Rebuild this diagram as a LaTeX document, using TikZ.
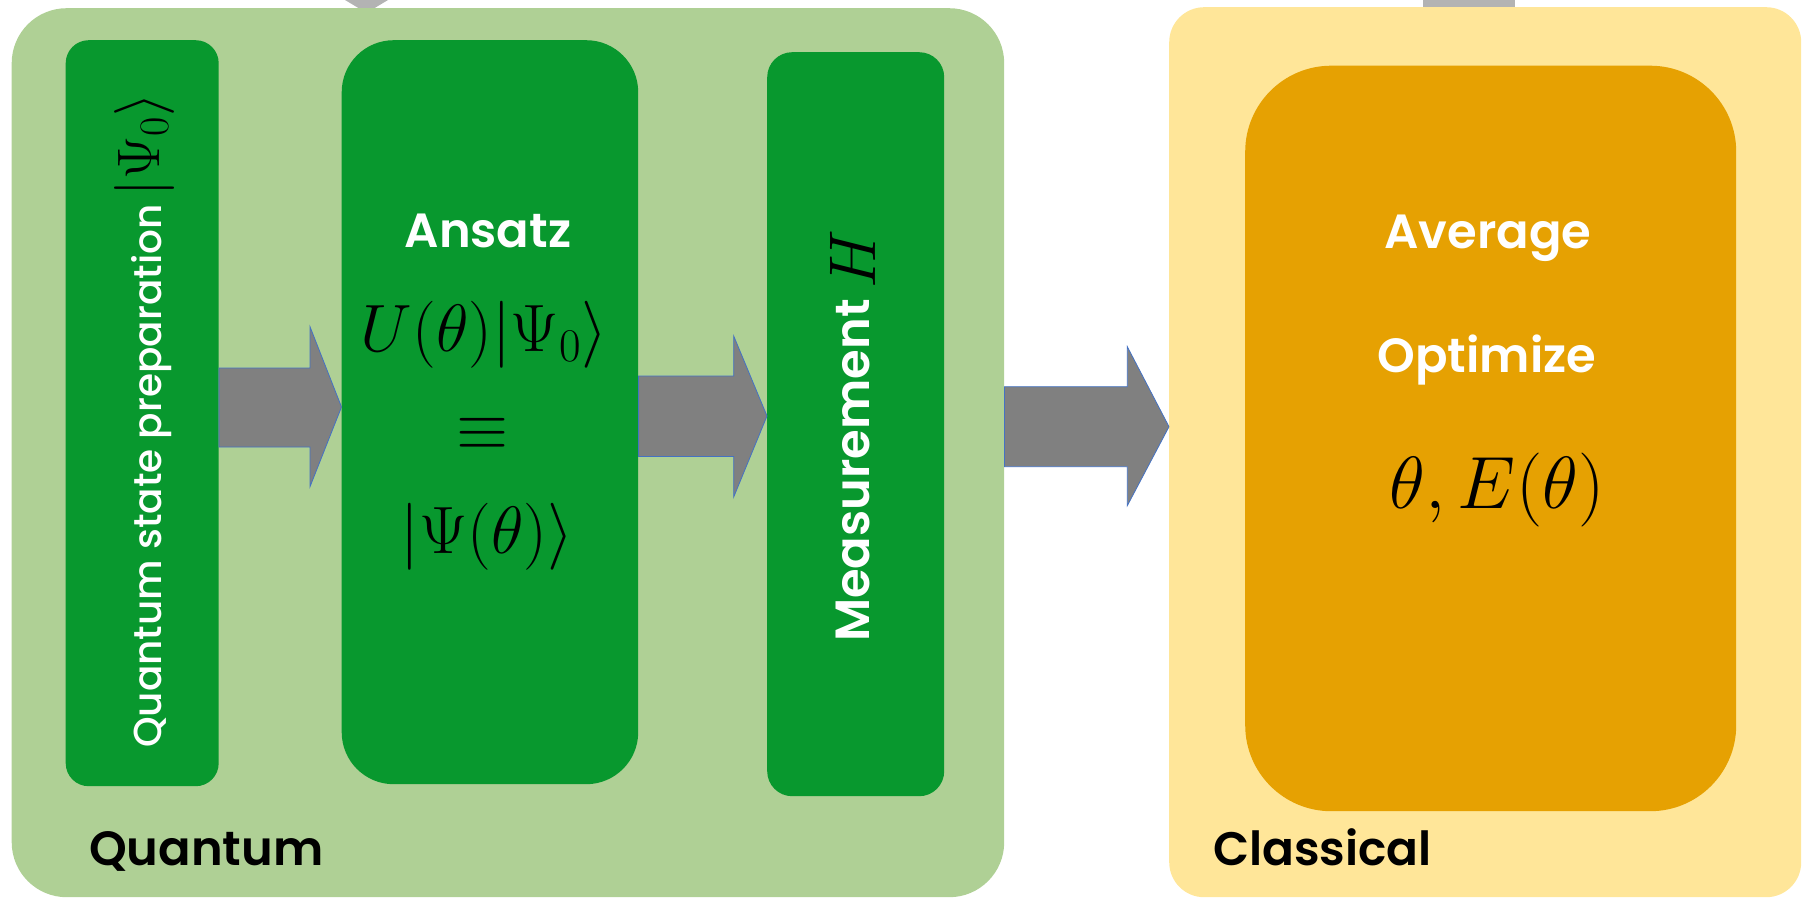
\RequirePackage{fix-cm}
\documentclass[tikz,border=0pt]{standalone}
\usepackage[no-math]{fontspec}
\setmainfont{Poppins}[BoldFont={Poppins SemiBold}]
\newfontfamily\mediumfont{Poppins Medium}
\definecolor{qlight}{RGB}{175,208,149}
\definecolor{qdark}{RGB}{8,152,46}
\definecolor{clight}{RGB}{255,230,153}
\definecolor{cdark}{RGB}{230,161,2}
\definecolor{arrowgray}{RGB}{128,128,128}
\definecolor{arrowedge}{RGB}{68,114,196}
\definecolor{faintgray}{RGB}{179,179,179}
\tikzset{
  box/.style={rectangle, inner sep=0pt, anchor=north west},
  bigarrow/.style={fill=arrowgray, draw=arrowedge, line width=0.8pt, line join=miter},
  lab/.style={inner sep=0pt, font=\fontsize{48}{58}\selectfont\bfseries},
  mathlab/.style={inner sep=0pt, anchor=base},
  upright/.style={rotate=90, inner sep=0pt}
}
\begin{document}
\begin{tikzpicture}[x=1pt, y=-1pt]
\useasboundingbox (0,0) rectangle (1803,899);

% loop-back arrow stubs at the top edge
\fill[faintgray] (345,0) -- (388,0) -- (373,9) -- (360,9) -- cycle;
\fill[faintgray] (1423,0) rectangle (1515,9);

% panels
\node[box, fill=qlight, minimum width=992.5pt, minimum height=889pt, rounded corners=55pt] (qpanel) at (11.5,8) {};
\node[box, fill=clight, minimum width=632pt, minimum height=890pt, rounded corners=35pt] (cpanel) at (1169,7) {};

% arrows between the stages
\draw[bigarrow] (qpanel.east |- 0,386.7) -- (1127.3,386.7) -- (1127.3,346.7) -- (cpanel.west |- 0,426.7)
  -- (1127.3,505.7) -- (1127.3,466.7) -- (qpanel.east |- 0,466.7) -- cycle;

% quantum stages
\node[box, fill=qdark, minimum width=153pt, minimum height=746pt, rounded corners=23pt] (prep) at (65.5,40) {};
\node[box, fill=qdark, minimum width=296.5pt, minimum height=744pt, rounded corners=52pt] (ansatz) at (341.5,40) {};
\node[box, fill=qdark, minimum width=177pt, minimum height=744pt, rounded corners=25pt] (meas) at (767,52) {};

\draw[bigarrow] (prep.east |- 0,368) -- (310,368) -- (310,326.7) -- (ansatz.west |- 0,407)
  -- (310,486.7) -- (310,447) -- (prep.east |- 0,447) -- cycle;
\draw[bigarrow] (ansatz.east |- 0,376) -- (733.7,376) -- (733.7,336) -- (meas.west |- 0,416)
  -- (733.7,497) -- (733.7,456.5) -- (ansatz.east |- 0,456.5) -- cycle;

% classical stage
\node[box, fill=cdark, minimum width=491pt, minimum height=745.5pt, rounded corners=86pt] (optim) at (1245,65.5) {};

% vertical captions
\node[upright, anchor=base west, text=white, font=\fontsize{39}{47}\mediumfont] (preptext) at (161,748) {Quantum state preparation};
\node[upright, anchor=base east, font=\fontsize{60}{70}\selectfont] (prepket) at (159,93) {$|\Psi_0\rangle$};
\node[upright, anchor=base west, text=white, font=\fontsize{48}{58}\selectfont\bfseries] (meastext) at (869,642) {Measurement};
\node[upright, anchor=base east, font=\fontsize{66}{80}\selectfont] (measop) at (875,230) {$H$};

% ansatz
\node[lab, anchor=base, text=white] (ansatztitle) at (488,247) {Ansatz};
\node[mathlab, font=\fontsize{67}{80}\selectfont] (ueq) at (484,351) {$U(\theta)|\Psi_0\rangle$};
\node[mathlab, font=\fontsize{67}{80}\selectfont] (equiv) at (483,449) {$\equiv$};
\node[mathlab, font=\fontsize{67}{80}\selectfont] (psieq) at (487,553) {$|\Psi(\theta)\rangle$};

% classical optimiser
\node[lab, anchor=base, text=white] (avg) at (1488,248) {Average};
\node[lab, anchor=base, text=white] (opt) at (1487,372) {Optimize};
\node[mathlab, font=\fontsize{74}{88}\selectfont] (energy) at (1497,508) {$\theta, E(\theta)$};

% panel titles
\node[lab, anchor=base west] (qlabel) at (89,865) {Quantum};
\node[lab, anchor=base west, font=\fontsize{47}{56}\selectfont\bfseries] (clabel) at (1213,865) {Classical};
\end{tikzpicture}
\end{document}
